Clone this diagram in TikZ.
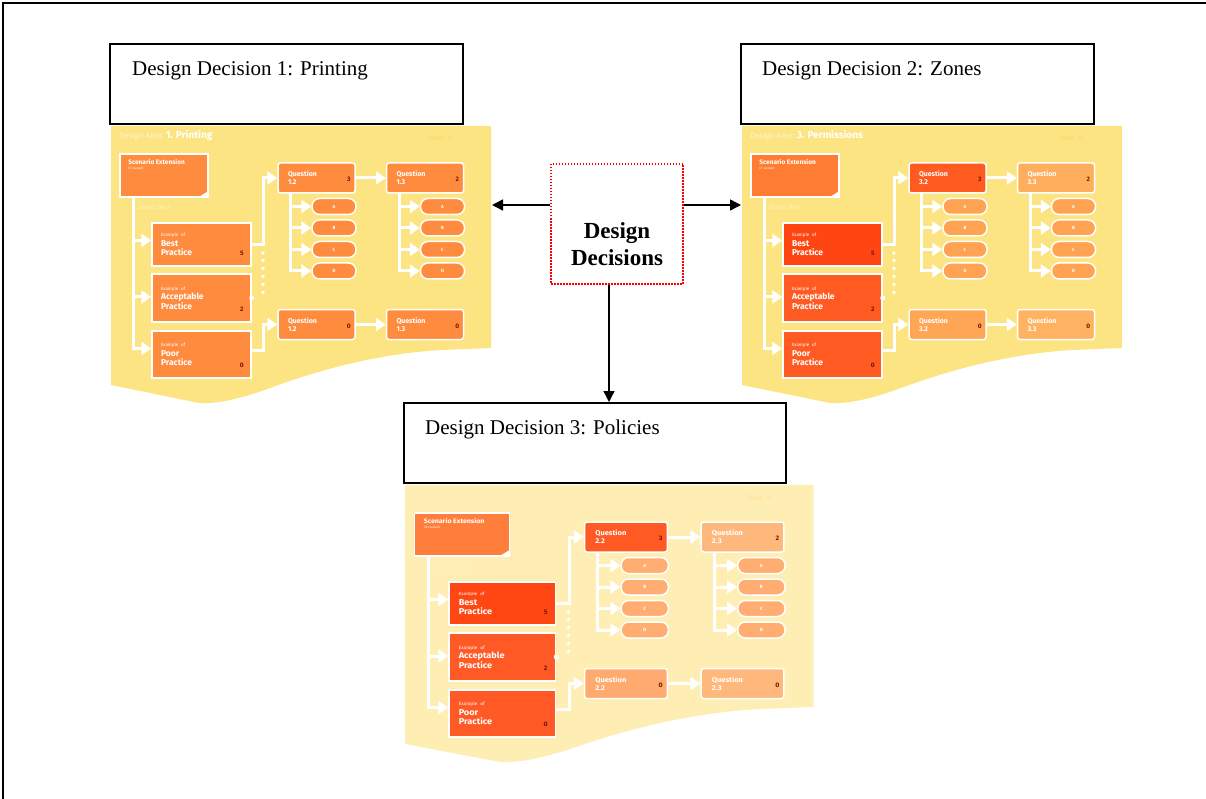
\documentclass[tikz,border=0pt]{standalone}
\usepackage{fontspec}
\setmainfont{Liberation Serif}
\newfontfamily\panelfont{Fira Sans}
\usetikzlibrary{arrows.meta}

% colours: P = printing, Z = zones, L = policies
\definecolor{Parea}{HTML}{FDE482}
\definecolor{Pscen}{HTML}{FF8B3E}
\colorlet{Pbest}{Pscen}\colorlet{Pacc}{Pscen}\colorlet{Ppoor}{Pscen}
\colorlet{Pqa}{Pscen}\colorlet{Pqb}{Pscen}\colorlet{Pqc}{Pscen}\colorlet{Pqd}{Pscen}
\colorlet{Popta}{Pscen}\colorlet{Poptb}{Pscen}
\definecolor{Ptot}{HTML}{FFD36E}

\colorlet{Zarea}{Parea}
\definecolor{Zscen}{HTML}{FF7D32}
\definecolor{Zbest}{HTML}{FF4612}
\definecolor{Zacc}{HTML}{FF5A22}
\colorlet{Zpoor}{Zacc}
\definecolor{Zqa}{HTML}{FF5A20}
\definecolor{Zqb}{HTML}{FFAE5E}
\definecolor{Zopta}{HTML}{FFA352}
\colorlet{Zoptb}{Zopta}
\definecolor{Zqc}{HTML}{FFA655}
\definecolor{Zqd}{HTML}{FFB262}
\colorlet{Ztot}{Ptot}

\definecolor{Larea}{HTML}{FEEEB4}
\definecolor{Lscen}{HTML}{FF7E3C}
\definecolor{Lbest}{HTML}{FF4714}
\definecolor{Lacc}{HTML}{FF5A26}
\colorlet{Lpoor}{Lacc}
\definecolor{Lqa}{HTML}{FF5A24}
\definecolor{Lqb}{HTML}{FFB87C}
\definecolor{Lopta}{HTML}{FFAD70}
\colorlet{Loptb}{Lopta}
\definecolor{Lqc}{HTML}{FFAB70}
\definecolor{Lqd}{HTML}{FFB87C}
\definecolor{Ltot}{HTML}{FFDD92}

\definecolor{numred}{HTML}{7A1500}
\definecolor{hdrtext}{HTML}{FFF4D0}
\definecolor{hintcol}{HTML}{FFF1B8}

% one design area sheet: #1 prefix, #2 placement, #3 header, #4 area number
\newcommand\designarea[4]{%
\begin{scope}[#2]
  \fill[#1area] (111,-126) -- (491,-126) -- (491,-348) -- (441,-350)
    .. controls (390,-353) and (330,-365) .. (262,-391)
    .. controls (235,-400) and (215,-404) .. (199,-403) -- (111,-385) -- cycle;
  \node[hdr, anchor=base west] (#1hdr) at (119,-139) {#3};
  \node[tot, text=#1tot, anchor=base west] (#1tot) at (428,-141) {Total:\ \ 0};
  \node[box, fill=#1scen, minimum width=88, minimum height=43] (#1scen) at (164,-175.5) {};
  \node[txt, anchor=north west] (#1scent) at ([shift={(9,-6)}]#1scen.north west)
    {Scenario Extension\\[-2.5pt]{\mdseries\fontsize{3}{3}\selectfont (if needed)}};
  \fill[white] ([xshift=-11]#1scen.south east) -- ([yshift=7]#1scen.south east) -- (#1scen.south east) -- cycle;
  \node[hint, anchor=base west] (#1sel) at (138,-210) {Select Best};
  \node[pbox, fill=#1best, minimum height=43] (#1best) at (201.5,-244.5)
    {{\mdseries\fontsize{4.5}{5}\selectfont Example of}\\Best\\Practice};
  \node[pbox, fill=#1acc, minimum height=48] (#1acc) at (201.5,-298)
    {{\mdseries\fontsize{4.5}{5}\selectfont Example of}\\Acceptable\\Practice};
  \node[pbox, fill=#1poor, minimum height=47] (#1poor) at (201.5,-354.5)
    {{\mdseries\fontsize{4.5}{5}\selectfont Example of}\\Poor\\Practice};
  \node[qbox, fill=#1qa] (#1qa) at (316.5,-178) {Question\\#4.2};
  \node[qbox, fill=#1qb] (#1qb) at (425,-178) {Question\\#4.3};
  \node[qbox, fill=#1qc] (#1qc) at (316.5,-324.5) {Question\\#4.2};
  \node[qbox, fill=#1qd] (#1qd) at (425,-324.5) {Question\\#4.3};
  \foreach \bx/\val in {best/5,acc/2,poor/0}
    \node[num] (#1\bx n) at ([shift={(-10,13)}]#1\bx.south east) {\val};
  \foreach \bx/\val in {qa/3,qb/2,qc/0,qd/0}
    \node[num] (#1\bx n) at ([shift={(-7,-1.5)}]#1\bx.east) {\val};
  \foreach \k/\lt/\yy in {1/A/206.5,2/B/228,3/C/249.5,4/D/271}{
    \node[pill, fill=#1opta] (#1oa\k) at (334,-\yy) {\lt};
    \node[pill, fill=#1optb] (#1ob\k) at (442.5,-\yy) {\lt};
  }
  % connectors
  \coordinate (#1trunk) at (133,-197);
  \coordinate (#1bestin) at ([yshift=4]#1best.west);
  \coordinate (#1accin) at ([yshift=1]#1acc.west);
  \coordinate (#1poorin) at ([yshift=6]#1poor.west);
  \coordinate (#1poorout) at ([yshift=4]#1poor.east);
  \draw[warrow] (#1trunk) |- (#1poorin);
  \foreach \bx in {best,acc}
    \draw[warrow] (#1trunk |- #1\bx in) -- (#1\bx in);
  \draw[warrow] (#1best.east) -- ++(12,0) |- (#1qa.west);
  \draw[warrow] (#1poorout) -- ++(12,0) |- (#1qc.west);
  \draw[warrow] (#1qa) -- (#1qb);
  \draw[warrow] (#1qc) -- (#1qd);
  \coordinate (#1qat) at (290,-193);
  \coordinate (#1qbt) at (399,-193);
  \draw[warrow] (#1qat) |- (#1oa4.west);
  \draw[warrow] (#1qbt) |- (#1ob4.west);
  \foreach \k in {1,2,3}{
    \draw[warrow] (#1qat |- #1oa\k.west) -- (#1oa\k.west);
    \draw[warrow] (#1qbt |- #1ob\k.west) -- (#1ob\k.west);
  }
  \foreach \yy in {253,260.5,268.5,276.5,284.5,292.5}
    \fill[white] (263,-\yy) circle (1.8);
  \fill[white] (#1acc.east) circle (2.5);
\end{scope}}

\begin{document}
\begin{tikzpicture}
  [x=1pt,y=1pt,
   box/.style={draw=white, line width=1.5pt, inner sep=0pt},
   pbox/.style={box, text width=81, inner xsep=9, align=left, text=white,
     font=\panelfont\bfseries\fontsize{8.5}{9.5}\selectfont},
   qbox/.style={box, rounded corners=2.5pt, minimum height=30, text width=57, inner xsep=10,
     align=left, text=white, font=\panelfont\bfseries\fontsize{7}{8}\selectfont},
   pill/.style={box, rounded corners=7.5pt, minimum width=44, minimum height=16, text=white,
     font=\panelfont\bfseries\fontsize{4.5}{5}\selectfont},
   txt/.style={inner sep=0pt, align=left, text=white, font=\panelfont\bfseries\fontsize{6.5}{7}\selectfont},
   hdr/.style={inner sep=0pt, text=hdrtext, font=\panelfont\fontsize{8}{9}\selectfont},
   tot/.style={inner sep=0pt, font=\panelfont\fontsize{6.5}{7}\selectfont},
   hint/.style={inner sep=0pt, text=hintcol, font=\panelfont\itshape\fontsize{6.5}{7}\selectfont},
   num/.style={inner sep=0pt, text=numred, font=\panelfont\bfseries\fontsize{6.5}{7}\selectfont},
   wline/.style={white, line width=3pt},
   warrow/.style={wline, -{Triangle[length=10pt,width=13pt]}},
   barrow/.style={black, line width=1.4pt, -{Triangle[length=11pt,width=11pt]}},
   ddbox/.style={draw=black, line width=2pt, fill=white, minimum width=353, minimum height=80, inner sep=0pt},
   ddtext/.style={inner sep=0pt, font=\fontsize{21}{24}\selectfont}]
  \useasboundingbox (0,0) rectangle (1206,-799);
  \draw[line width=1.5pt] (3,-799) -- (3,-3) -- (1206,-3);

  \designarea{P}{}{Design Area:\ {\color{white}\bfseries\fontsize{10}{11}\selectfont 1. Printing}}{1}
  \designarea{Z}{shift={(631,0)}}{Design Area:\ {\color{white}\bfseries\fontsize{10}{11}\selectfont 3. Permissions}}{3}
  \designarea{L}{shift={(285.7,-359)},xscale=1.075,transform shape}{}{2}

  \node[ddbox] (dd1) at (286.5,-84) {};
  \node[ddtext, anchor=base west] (dd1t) at (132,-76) {Design Decision 1: Printing};
  \node[ddbox] (dd2) at (917,-84) {};
  \node[ddtext, anchor=base west] (dd2t) at (762,-76) {Design Decision 2: Zones};
  \node[ddbox, minimum width=382] (dd3) at (595,-443) {};
  \node[ddtext, anchor=base west] (dd3t) at (425,-434) {Design Decision 3: Policies};

  \node[draw=red, line width=1.5pt, dash pattern=on 1.5pt off 1.5pt, minimum width=132, minimum height=120] (decisions) at (617,-224) {};
  \node[inner sep=0pt, align=center, anchor=base, font=\bfseries\fontsize{23}{27}\selectfont] (decisionst) at (617,-266) {Design\\Decisions};

  \coordinate (area1in) at (492,-205);
  \coordinate (area2in) at (741,-205);
  \coordinate (dtail) at ([xshift=-8]decisions.south);
  \draw[barrow] ([yshift=19]decisions.west) -- (area1in);
  \draw[barrow] ([yshift=19]decisions.east) -- (area2in);
  \draw[barrow] (dtail) -- (dtail |- dd3.north);
\end{tikzpicture}
\end{document}
